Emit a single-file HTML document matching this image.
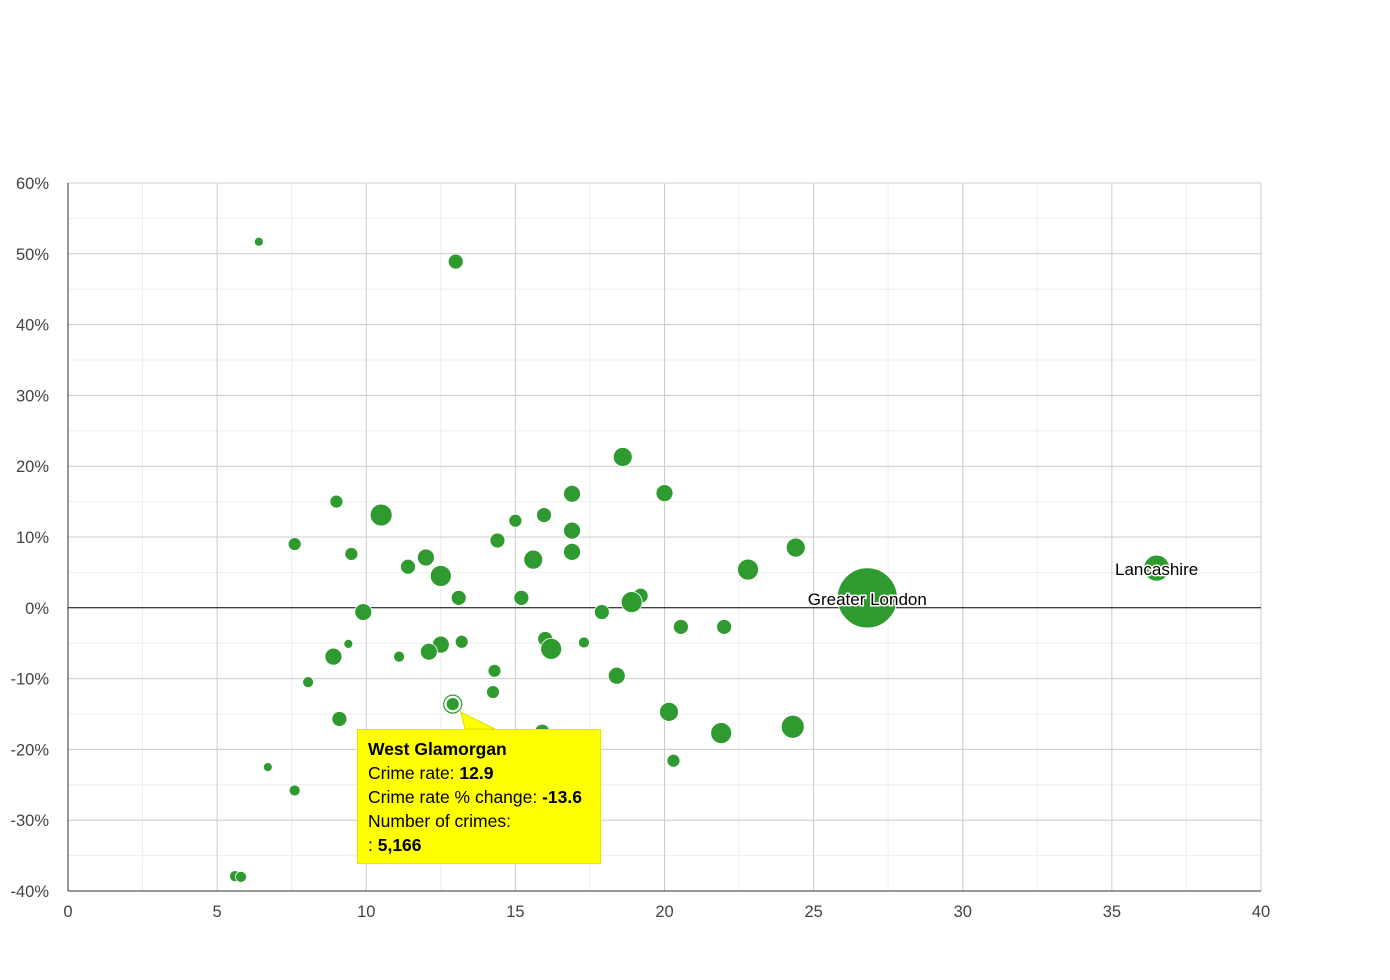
<!DOCTYPE html>
<html><head><meta charset="utf-8"><style>
body{margin:0;background:#fff;font-family:"Liberation Sans",sans-serif;}
svg{display:block}
</style></head><body>
<svg id="chart" width="1390" height="980">
<g id="grid"></g>
<g id="axes"></g>
<g id="bubbles"></g>
<g id="labels"></g>
<g id="tip"></g>
</svg>
<script>
const xs=[6.4,13.0,18.6,16.9,20.0,9.0,10.5,15.0,15.96,14.4,16.9,7.6,9.5,24.4,12.0,11.4,15.6,16.9,22.8,12.5,13.1,15.2,19.2,18.9,36.5,26.8,9.9,17.9,20.55,22.0,9.4,13.2,12.5,16.0,16.2,17.3,12.1,8.9,11.1,14.3,18.4,8.05,14.25,12.9,9.1,20.15,21.9,24.3,15.9,20.3,6.7,7.6,5.6,5.8];
const ys=[51.7,48.9,21.3,16.1,16.2,15.0,13.1,12.3,13.1,9.5,10.9,9.0,7.6,8.5,7.1,5.8,6.8,7.9,5.4,4.5,1.4,1.4,1.7,0.8,5.6,1.4,-0.6,-0.6,-2.7,-2.7,-5.1,-4.8,-5.2,-4.4,-5.8,-4.9,-6.2,-6.9,-6.9,-8.9,-9.6,-10.5,-11.9,-13.6,-15.7,-14.7,-17.7,-16.8,-17.5,-21.6,-22.5,-25.8,-37.9,-38.0];
const sizes=[4.5,7.5,9.5,8.5,8.5,6.5,11,6.5,7.5,7.5,8.5,6.5,6.5,9.5,8.5,7.5,9.5,8.5,10.5,10.5,7.5,7.5,7.5,10.5,13,30,8.5,7.5,7.5,7.5,4.5,6.5,8.5,7.5,10.5,5.5,8.5,8.5,5.5,6.5,8.5,5.5,6.5,6.5,7.5,9.5,10.5,11.5,7.5,6.5,4.5,5.5,5.5,5.5];
const xTicks=[0,5,10,15,20,25,30,35,40];
const yTicks=[60,50,40,30,20,10,0,-10,-20,-30,-40];
const named={24:"Lancashire",25:"Greater London"};
const X0=68,X1=1261,Y0=183,Y1=891;
const sx=v=>X0+(v-0)/40*(X1-X0);
const sy=v=>Y0+(60-v)/100*(Y1-Y0);
const NS="http://www.w3.org/2000/svg";
function mk(p,t,a){const e=document.createElementNS(NS,t);for(const k in a)e.setAttribute(k,a[k]);p.appendChild(e);return e;}
const grid=document.getElementById('grid'),axes=document.getElementById('axes');
for(let v=2.5;v<40;v+=5){const l=mk(grid,'line',{x1:sx(v),x2:sx(v),y1:Y0,y2:Y1,stroke:'#eee'});}
for(let v=55;v>-40;v-=10){const l=mk(grid,'line',{x1:X0,x2:X1,y1:sy(v),y2:sy(v),stroke:'#eee'});}
xTicks.forEach(v=>{const l=mk(grid,'line',{x1:sx(v),x2:sx(v),y1:Y0,y2:Y1,stroke:'#ccc'});
const t=mk(axes,'text',{x:sx(v),y:Y1+26,'text-anchor':'middle','font-size':16.5,fill:'#444'});t.textContent=v;});
yTicks.forEach(v=>{const l=mk(grid,'line',{x1:X0,x2:X1,y1:sy(v),y2:sy(v),stroke:v===0?'#000':'#ccc'});
const t=mk(axes,'text',{x:49,y:sy(v)+6,'text-anchor':'end','font-size':16.5,fill:'#444'});t.textContent=v+'%';});
const la=mk(axes,'line',{x1:X0,x2:X0,y1:Y0,y2:Y1,stroke:'#333'});
const lb=mk(axes,'line',{x1:X0,x2:X1,y1:Y1,y2:Y1,stroke:'#333'});
const bg=document.getElementById('bubbles'),lg=document.getElementById('labels');
xs.forEach((x,i)=>{const c=mk(bg,'circle',{cx:sx(x),cy:sy(ys[i]),r:sizes[i],fill:'#2f9a2f',stroke:'#fff','stroke-width':0.8});


if(named[i]){const t=mk(lg,'text',{x:sx(x),y:sy(ys[i])+7,'text-anchor':'middle','font-size':17,fill:'#000',stroke:'#fff','stroke-width':3,'paint-order':'stroke'});t.textContent=named[i];}
});
const tip=document.getElementById('tip');
const hx=sx(12.9),hy=sy(-13.6);
const ring=mk(tip,'circle',{cx:hx,cy:hy,r:9,fill:'none',stroke:'#2f9a2f','stroke-width':1.2});
const poly=mk(tip,'path',{d:`M${hx+8} ${hy+8} L495 729 L465 729 Z`,fill:'#ffff00',stroke:'#e0e000'});
const box=mk(tip,'rect',{x:357.5,y:729.5,width:243,height:134,fill:'#ffff00',stroke:'#e6e600'});
const lines=[["West Glamorgan","",true],["Crime rate: ","12.9"],["Crime rate % change: ","-13.6"],["Number of crimes:",""],[": ","5,166"]];
lines.forEach((l,i)=>{const t=mk(tip,'text',{x:368,y:755+i*24,'font-size':17.5,fill:'#000'});

const a=mk(t,'tspan',{});a.textContent=l[0];if(l[2])a.setAttribute('font-weight','bold');
if(l[1]){const b=mk(t,'tspan',{'font-weight':'bold'});b.textContent=l[1];}});
</script>
</body></html>
